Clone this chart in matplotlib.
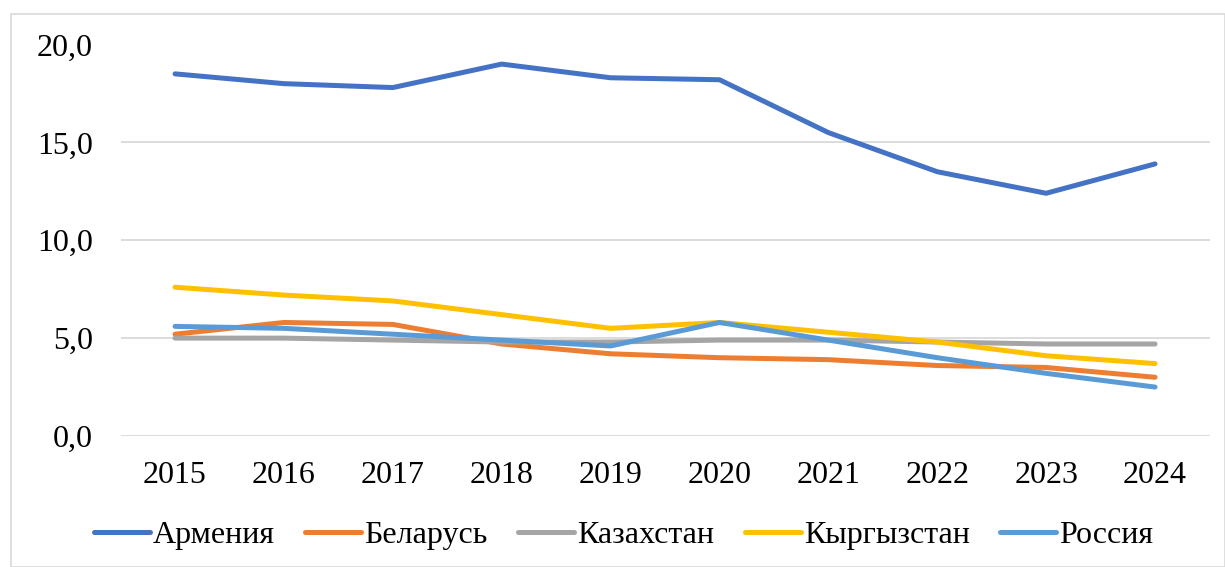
import matplotlib
matplotlib.use("Agg")
import matplotlib.pyplot as plt
from matplotlib.patches import Rectangle

years = ["2015", "2016", "2017", "2018", "2019", "2020", "2021", "2022", "2023", "2024"]
armenia = [18.5, 18.0, 17.8, 19.0, 18.3, 18.2, 15.5, 13.5, 12.4, 13.9]
belarus = [5.2, 5.8, 5.7, 4.7, 4.2, 4.0, 3.9, 3.6, 3.5, 3.0]
kazakhstan = [5.0, 5.0, 4.9, 4.8, 4.8, 4.9, 4.9, 4.8, 4.7, 4.7]
kyrgyzstan = [7.6, 7.2, 6.9, 6.2, 5.5, 5.8, 5.3, 4.8, 4.1, 3.7]
russia = [5.6, 5.5, 5.2, 4.9, 4.6, 5.8, 4.9, 4.0, 3.2, 2.5]
names = ["Армения", "Беларусь", "Казахстан", "Кыргызстан", "Россия"]
colors = ["#4472C4", "#ED7D31", "#A5A5A5", "#FFC000", "#5B9BD5"]
yticks = [0, 5, 10, 15, 20]
ytick_labels = ["0,0", "5,0", "10,0", "15,0", "20,0"]

plt.rcParams["font.family"] = ["Liberation Serif", "DejaVu Serif"]

W, H = 1225, 567
fs = 23
fig = plt.figure(figsize=(W / 100, H / 100), dpi=100)
ax = fig.add_axes([120.6 / W, 1 - 436 / H, (1209.5 - 120.6) / W, (436 - 44.5) / H])

x = list(range(len(years)))
for series, name, c in zip([armenia, belarus, kazakhstan, kyrgyzstan, russia], names, colors):
    ax.plot(x, series, color=c, lw=3.6, label=name, solid_capstyle="round", solid_joinstyle="round", zorder=3)

ax.set_xlim(-0.5, len(years) - 0.5)
ax.set_ylim(0, 20)
ax.set_yticks(yticks)
ax.set_yticklabels(ytick_labels)
ax.set_xticks(x)
ax.set_xticklabels(years)
ax.grid(axis="y", color="#D9D9D9", lw=1.3, zorder=0)
ax.tick_params(axis="both", length=0, labelsize=fs, colors="black")
ax.tick_params(axis="y", pad=20)
ax.tick_params(axis="x", pad=18)
for s in ax.spines.values():
    s.set_visible(False)

# outer chart border
fig.patches.append(Rectangle((10.5 / W, 0), (W - 11) / W, (H - 13.5) / H, transform=fig.transFigure,
                             fill=False, edgecolor="#D9D9D9", lw=1.2))

fig.legend(loc="center", bbox_to_anchor=(0.5 + 11 / W, 1 - 535 / H), ncol=5, frameon=False,
           fontsize=fs, handlelength=1.75, handletextpad=0.1, columnspacing=0.95)

fig.savefig("out.png", dpi=100)
